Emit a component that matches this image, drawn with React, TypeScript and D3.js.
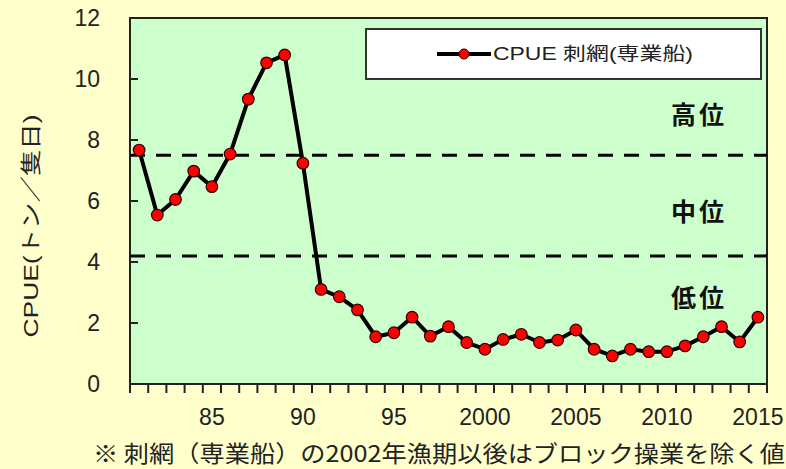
import React from "react";
import * as d3 from "d3";

const years: number[] = d3.range(1981, 2016);
const cpue: number[] = [
  7.67, 5.54, 6.05, 6.98, 6.47, 7.54, 9.34, 10.53, 10.79, 7.24,
  3.10, 2.86, 2.43, 1.55, 1.68, 2.19, 1.57, 1.88, 1.36, 1.14,
  1.46, 1.63, 1.36, 1.44, 1.77, 1.14, 0.92, 1.14, 1.06, 1.06,
  1.25, 1.55, 1.88, 1.38, 2.19,
];
const yTicks: number[] = [0, 2, 4, 6, 8, 10, 12];
const xLabelYears: number[] = [1985, 1990, 1995, 2000, 2005, 2010, 2015];
const xLabelText: string[] = ["85", "90", "95", "2000", "2005", "2010", "2015"];
const thresholds: number[] = [7.5, 4.2];
const levelLabels: { text: string; v: number }[] = [
  { text: "高位", v: 8.9 },
  { text: "中位", v: 5.7 },
  { text: "低位", v: 2.9 },
];
const legendLabel = "CPUE 刺網(専業船)";
const yTitle = "CPUE(トン／隻日)";
const footnote = "※ 刺網（専業船）の2002年漁期以後はブロック操業を除く値";

const W = 786;
const H = 469;
const L = 130, R = 767, T = 18, B = 384;
const FONT = "'Liberation Sans', 'Noto Sans CJK JP', sans-serif";
const JFONT = "'Noto Sans CJK JP', 'Liberation Sans', sans-serif";

export default function App() {
  const x = d3.scaleBand<number>().domain(years).range([L, R]).padding(0);
  const y = d3.scaleLinear().domain([0, 12]).range([B, T]);
  const cx = (yr: number) => (x(yr) as number) + x.bandwidth() / 2;
  const line = d3
    .line<number>()
    .x((_, i) => cx(years[i]))
    .y((d) => y(d));
  const boundaries = years.map((yr) => x(yr) as number).concat([R]);

  return (
    <svg width={W} height={H} style={{ position: "absolute", left: 0, top: 0 }}>
      <rect x={0} y={0} width={W} height={H} fill="#FFFFCC" />
      <rect x={L} y={T} width={R - L} height={B - T} fill="#CCFFCC" stroke="#222" strokeWidth={2} />
      {/* threshold lines */}
      {thresholds.map((t, i) => (
        <line key={i} x1={L} x2={R} y1={y(t)} y2={y(t)} stroke="#000" strokeWidth={3} strokeDasharray="15,11" />
      ))}
      {/* y ticks inside */}
      {yTicks.map((t) => (
        <g key={t}>
          <line x1={L} x2={L + 8} y1={y(t)} y2={y(t)} stroke="#222" strokeWidth={2} />
          <text x={100} y={y(t)} textAnchor="end" dominantBaseline="central" fontFamily={FONT} fontSize={23} fill="#222">
            {t}
          </text>
        </g>
      ))}
      {/* x ticks below */}
      {boundaries.map((b, i) => (
        <line key={i} x1={b} x2={b} y1={B} y2={B + 9} stroke="#222" strokeWidth={2} />
      ))}
      {xLabelYears.map((yr, i) => (
        <text key={yr} x={cx(yr)} y={417} textAnchor="middle" dominantBaseline="central" fontFamily={FONT} fontSize={23} fill="#222">
          {xLabelText[i]}
        </text>
      ))}
      {/* data line */}
      <path d={line(cpue) || ""} fill="none" stroke="#000" strokeWidth={4} strokeLinejoin="round" />
      {cpue.map((v, i) => (
        <circle key={i} cx={cx(years[i])} cy={y(v)} r={5.8} fill="#FF0000" stroke="#300" strokeWidth={1.2} />
      ))}
      {/* level labels */}
      {levelLabels.map((l) => (
        <text key={l.text} x={699} y={y(l.v)} textAnchor="middle" dominantBaseline="central" fontFamily={JFONT} fontWeight="bold" fontSize={25} letterSpacing={3} fill="#111">
          {l.text}
        </text>
      ))}
      {/* legend */}
      <rect x={366} y={29} width={395} height={50} fill="#FFFFFF" stroke="#333" strokeWidth={2} />
      <line x1={437} x2={491} y1={54} y2={54} stroke="#000" strokeWidth={4} />
      <circle cx={464} cy={54} r={5} fill="#FF0000" stroke="#300" strokeWidth={1} />
      <text x={493} y={54} dominantBaseline="central" fontFamily={FONT} fontSize={18} fill="#222" textLength={200} lengthAdjust="spacingAndGlyphs">
        {legendLabel}
      </text>
      {/* y title */}
      <text
        transform={`translate(30,226) rotate(-90)`}
        textAnchor="middle"
        dominantBaseline="central"
        fontFamily={FONT}
        fontSize={21}
        fill="#222"
        textLength={223}
        lengthAdjust="spacingAndGlyphs"
      >
        {yTitle}
      </text>
      {/* footnote */}
      <text x={93} y={452} dominantBaseline="central" fontFamily={JFONT} fontSize={23} fill="#222" textLength={692} lengthAdjust="spacingAndGlyphs">
        {footnote}
      </text>
    </svg>
  );
}
